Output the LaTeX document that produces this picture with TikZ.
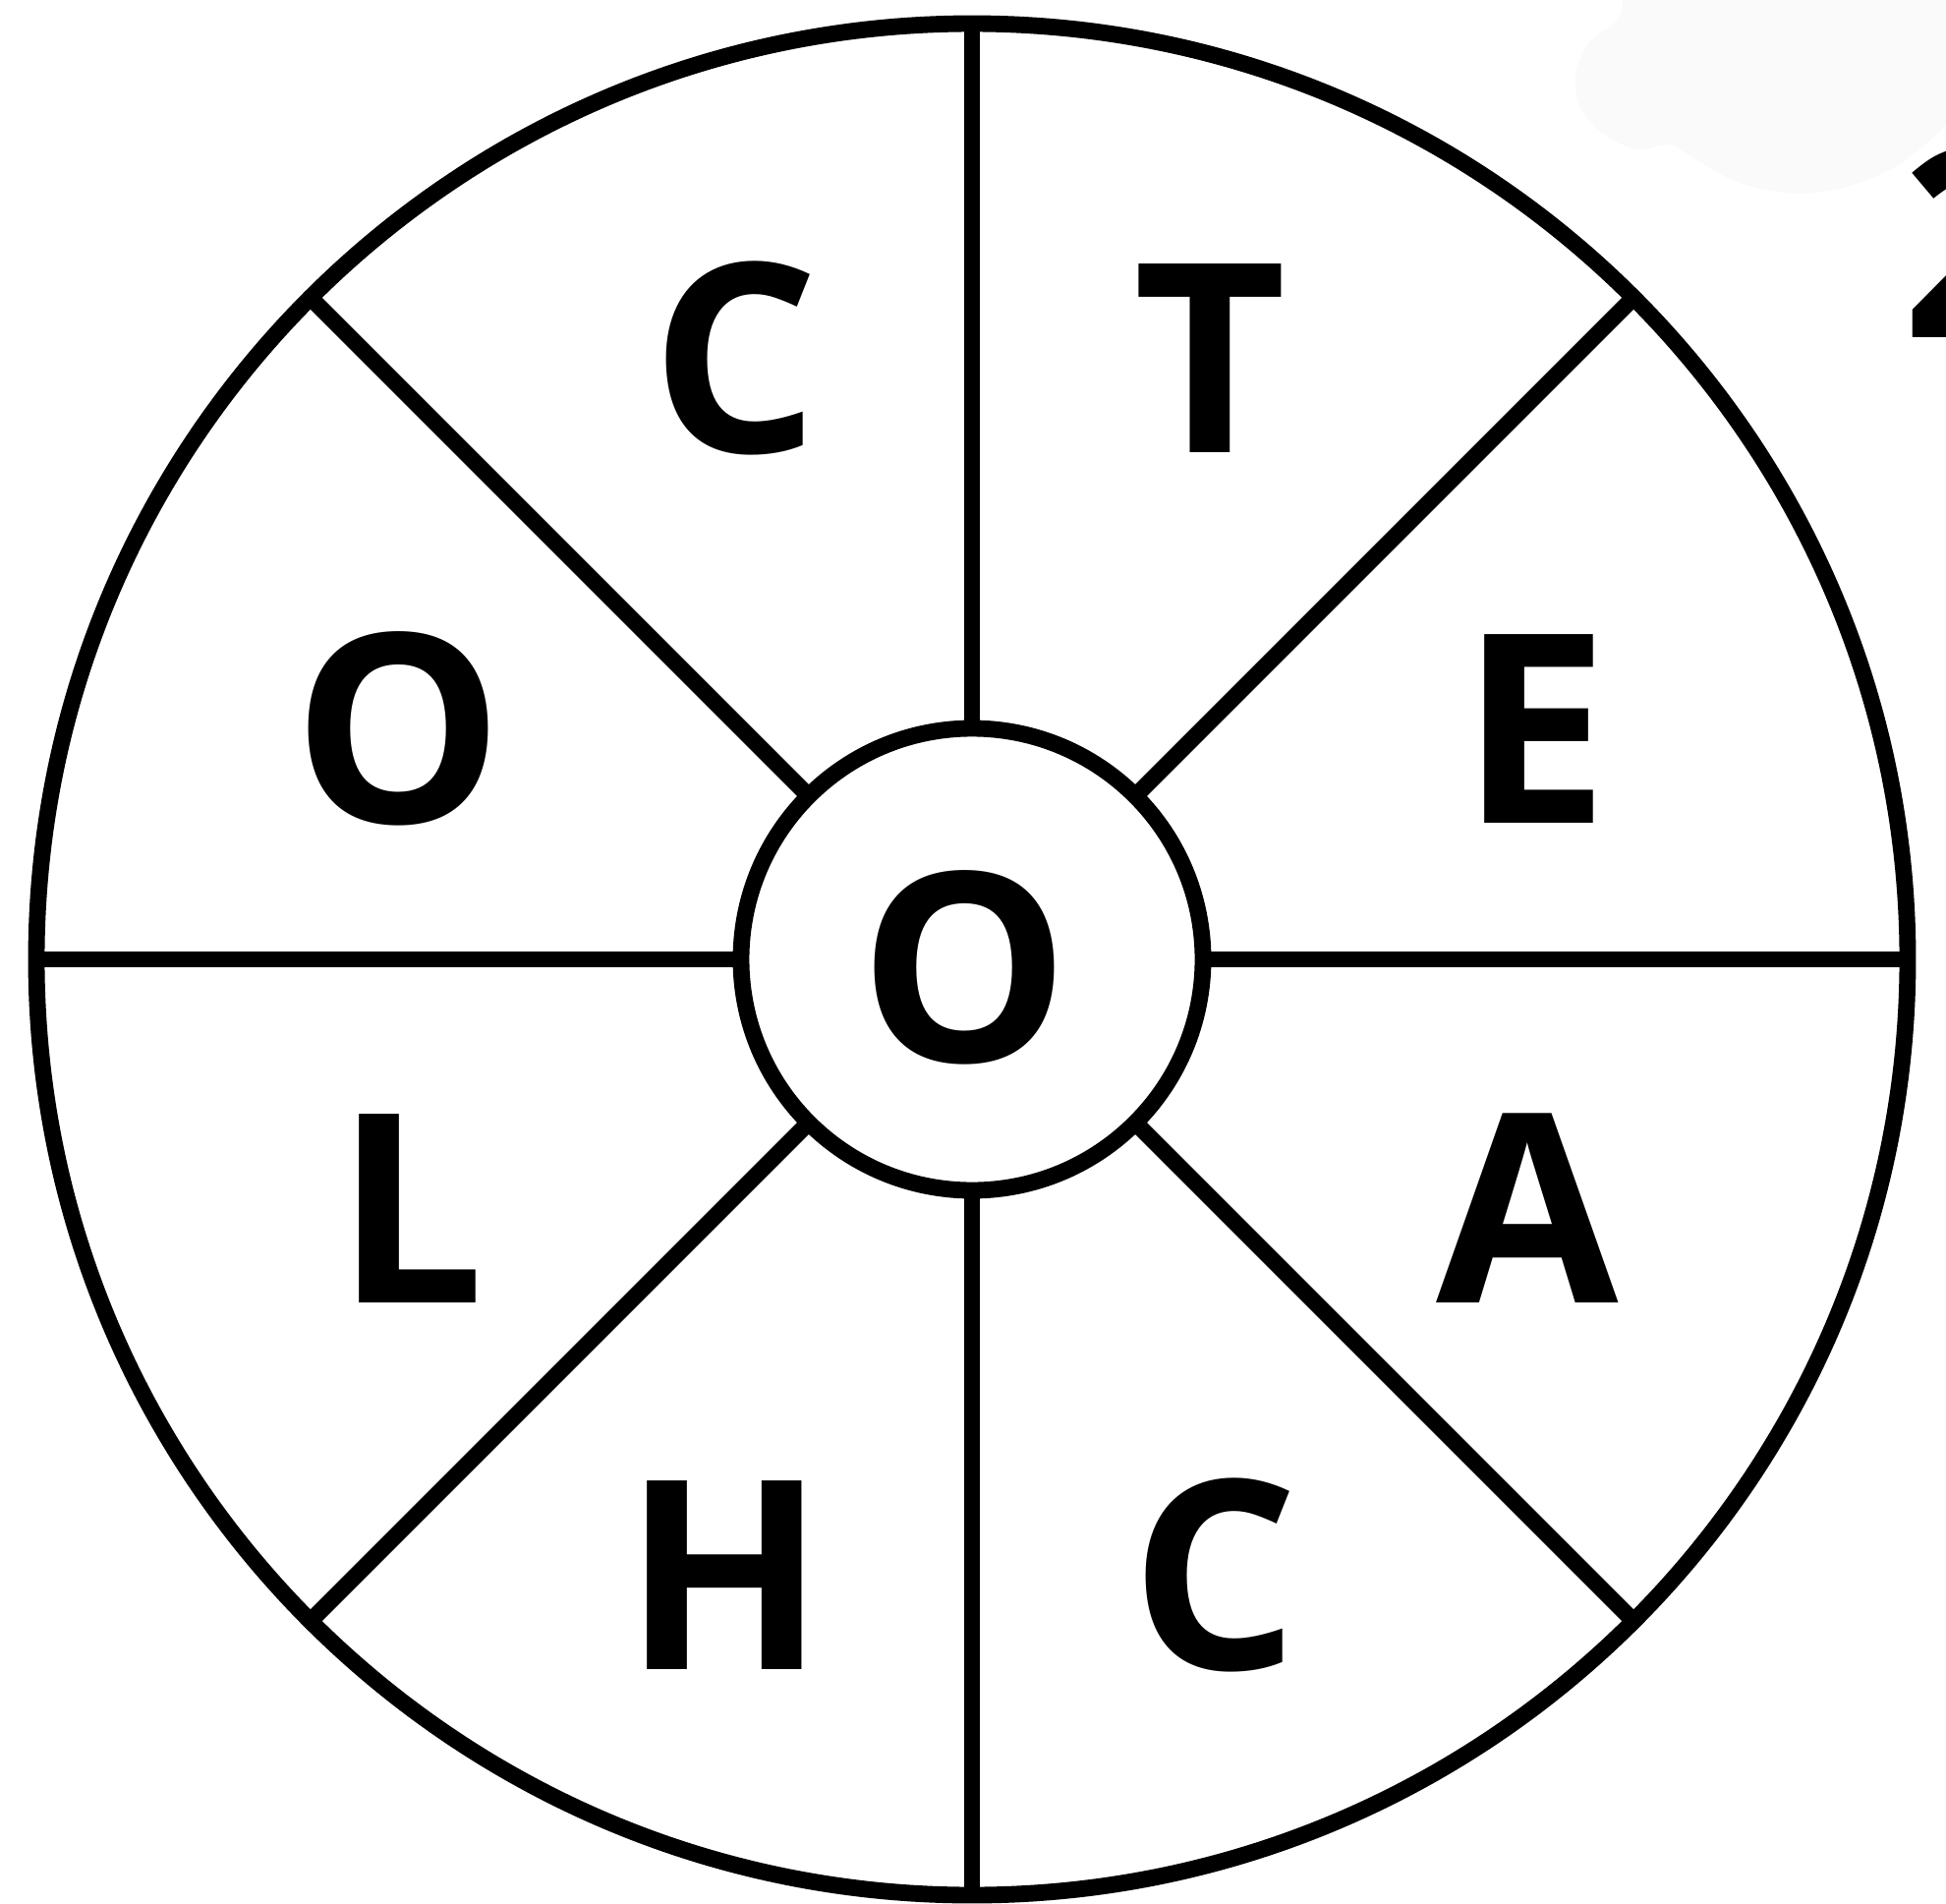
\documentclass[tikz,border=0pt]{standalone}
\usepackage{fontspec}
\setmainfont{Open Sans}
\usetikzlibrary{calc}
\tikzstyle{letter} = [font=\fontsize{76.5pt}{80pt}\selectfont\bfseries, inner sep=0pt, anchor=base]
\tikzstyle{ring} = [circle, draw, line width=4.8pt, inner sep=0pt, outer sep=0pt]

\begin{document}
\begin{tikzpicture}
\useasboundingbox (0,0) rectangle (19.8,-19.37);
\clip (0,0) rectangle (19.8,-19.37);

% faint smudge in the corner
\fill[black!2] plot[smooth] coordinates {(16.50,0) (16.50,-0.13) (16.40,-0.25) (16.17,-0.43) (16.05,-0.67) (16.03,-0.87) (16.08,-1.10) (16.27,-1.33) (16.50,-1.47) (16.70,-1.52) (17.00,-1.47) (17.17,-1.57) (17.50,-1.77) (17.83,-1.90) (18.27,-1.97) (18.67,-1.93) (19.00,-1.83) (19.33,-1.67) (19.67,-1.40) (19.80,-1.27)} -- (19.8,0) -- cycle;

\node[ring, minimum size=19.04cm] (rim) at (9.89,-9.76) {};
\node[ring, minimum size=4.7cm] (hub) at (rim.center) {};
\foreach \a in {0,45,...,315} {
    \draw[line width=4.8pt] (hub.\a) -- (rim.\a);
}

\node[letter] (cUp) at (7.48,-4.60) {C};
\node[letter] (tUp) at (12.31,-4.60) {T};
\node[letter] (oLeft) at (4.05,-8.37) {O};
\node[letter] (eRight) at (15.62,-8.37) {E};
\node[letter] (oMid) at (9.815,-10.80) {O};
\node[letter] (lLeft) at (4.17,-13.25) {L};
\node[letter] (aRight) at (15.54,-13.25) {A};
\node[letter] (hDown) at (7.37,-16.98) {H};
\node[letter] (cDown) at (12.36,-16.98) {C};
\node[letter, anchor=base west] (two) at (19.35,-3.43) {2};
\end{tikzpicture}
\end{document}
